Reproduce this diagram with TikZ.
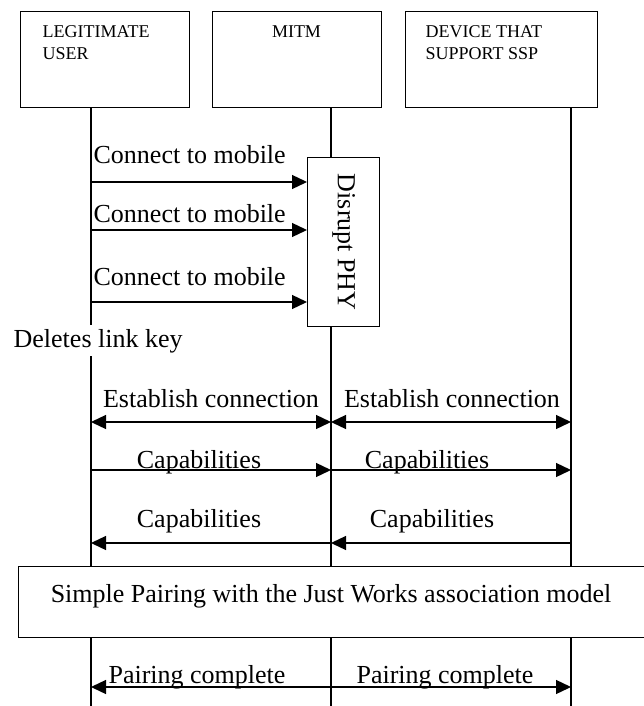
\documentclass[tikz,border=0pt]{standalone}
\usepackage{fontspec}
\setmainfont{Liberation Serif}
\usetikzlibrary{arrows.meta}
\begin{document}
\begin{tikzpicture}[x=1pt,y=-1pt,line width=1.3pt,
  tip/.tip={Triangle[length=15pt,width=14pt]},
  msg/.style={-tip},
  dmsg/.style={tip-tip},
  big/.style={font=\fontsize{26}{30}\selectfont,inner sep=0pt},
  small/.style={font=\fontsize{18}{22}\selectfont,inner sep=0pt},
  boxnode/.style={draw,fill=white,inner sep=0pt,anchor=north west}]
\useasboundingbox (0,0) rectangle (643,706);
% lifeline anchor coordinates
\coordinate (L1a) at (91,107);  \coordinate (L1b) at (91,325);
\coordinate (L1c) at (91,356);  \coordinate (L1d) at (91,706);
\coordinate (L2a) at (331,107); \coordinate (L2d) at (331,706);
\coordinate (L3a) at (571,107); \coordinate (L3d) at (571,706);
% lifelines
\draw (L1a) -- (L1b);
\draw (L1c) -- (L1d);
\draw (L2a) -- (L2d);
\draw (L3a) -- (L3d);
% actor boxes
\node[boxnode,minimum width=169pt,minimum height=96pt] (A) at (20,11) {};
\node[boxnode,minimum width=169pt,minimum height=96pt] (M) at (212,11) {};
\node[boxnode,minimum width=192pt,minimum height=96pt] (S) at (405,11) {};
\node[small,anchor=base west] (At1) at (42,38) {LEGITIMATE};
\node[small,anchor=base west] (At2) at (42,60) {USER};
\node[small,anchor=base] (Mt) at (296.5,38) {MITM};
\node[small,anchor=base west] (St1) at (425,38) {DEVICE THAT};
\node[small,anchor=base west] (St2) at (425,60) {SUPPORT SSP};
% disrupt box
\node[boxnode,minimum width=72pt,minimum height=169pt] (D) at (307,157) {};
\node[big,rotate=-90] (Dt) at (D.center) {Disrupt PHY};
% connect messages
\coordinate (c1) at (91,182); \coordinate (c2) at (91,230); \coordinate (c3) at (91,302);
\draw[msg] (c1) -- (c1 -| D.west);
\draw[msg] (c2) -- (c2 -| D.west);
\draw[msg] (c3) -- (c3 -| D.west);
\node[big,anchor=base west] (ct1) at (93,163) {Connect to mobile};
\node[big,anchor=base west] (ct2) at (93,222) {Connect to mobile};
\node[big,anchor=base west] (ct3) at (93,285) {Connect to mobile};
\node[big,anchor=base west] (del) at (13,347) {Deletes link key};
% establish connection
\coordinate (e1) at (91,422); \coordinate (e2) at (331,422); \coordinate (e3) at (571,422);
\draw[dmsg] (e1) -- (e2);
\draw[dmsg] (e2) -- (e3);
\node[big,anchor=base] (et1) at (211,407) {Establish connection};
\node[big,anchor=base] (et2) at (452,407) {Establish connection};
% capabilities forward
\coordinate (f1) at (91,470); \coordinate (f2) at (331,470); \coordinate (f3) at (571,470);
\draw[msg] (f1) -- (f2);
\draw[msg] (f2) -- (f3);
\node[big,anchor=base] (ft1) at (199,468) {Capabilities};
\node[big,anchor=base] (ft2) at (427,468) {Capabilities};
% capabilities back
\coordinate (b1) at (91,543); \coordinate (b2) at (331,543); \coordinate (b3) at (571,543);
\draw[msg] (b3) -- (b2);
\draw[msg] (b2) -- (b1);
\node[big,anchor=base] (bt1) at (199,527) {Capabilities};
\node[big,anchor=base] (bt2) at (432,527) {Capabilities};
% simple pairing box
\node[boxnode,minimum width=626pt,minimum height=71pt] (P) at (18,566) {};
\node[big,anchor=base] (Pt) at (331,602) {Simple Pairing with the Just Works association model};
% pairing complete
\coordinate (p1) at (91,687); \coordinate (p3) at (571,687);
\draw[dmsg] (p1) -- (p3);
\node[big,anchor=base] (pt1) at (197,683) {Pairing complete};
\node[big,anchor=base] (pt2) at (445,683) {Pairing complete};
\end{tikzpicture}
\end{document}
